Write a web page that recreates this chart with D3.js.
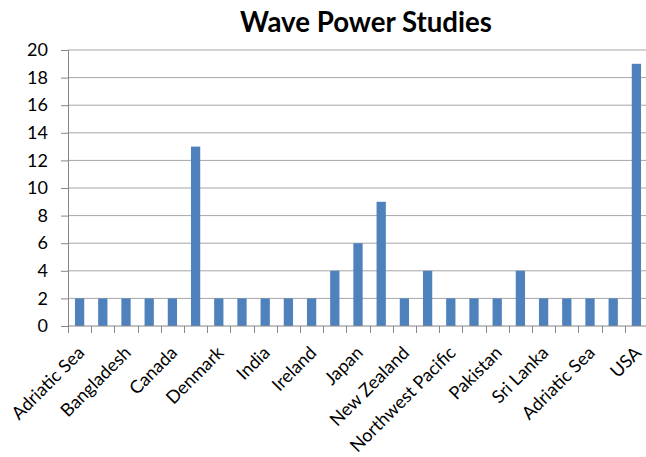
<!DOCTYPE html>
<html><head><meta charset="utf-8">
<script src="https://cdn.jsdelivr.net/npm/d3@7"></script>
<style>html,body{margin:0;padding:0;background:#fff;}svg{display:block;}</style>
</head><body>
<svg id="chart" width="646" height="457"></svg>
<script>
const categories = ["Adriatic Sea","c2","Bangladesh","c4","Canada","c6","Denmark","c8","India","c10","Ireland","c12","Japan","c14","New Zealand","c16","Northwest Pacific","c18","Pakistan","c20","Sri Lanka","c22","Adriatic Sea ","c24","USA"];
const values = [2,2,2,2,2,13,2,2,2,2,2,4,6,9,2,4,2,2,2,4,2,2,2,2,19];
const yTicks = [0,2,4,6,8,10,12,14,16,18,20];
const title = "Wave Power Studies";

const svg = d3.select("#chart");
const m = {left:68, right:648, top:50, bottom:326};
const font = "Lato, 'Open Sans', sans-serif";

const x = d3.scaleBand().domain(categories).range([m.left, m.right]).paddingInner(0.6).paddingOuter(0.3);
const xb = d3.scaleBand().domain(categories).range([m.left, m.right]);
const y = d3.scaleLinear().domain([0,20]).range([m.bottom, m.top]);

// gridlines
svg.append("g").selectAll("line").data(yTicks.filter(d=>d>0)).join("line")
  .attr("x1", m.left).attr("x2", m.right)
  .attr("y1", d=>y(d)).attr("y2", d=>y(d))
  .attr("stroke", "#a5a5a5").attr("stroke-width", 1);

// bars
svg.append("g").selectAll("rect").data(values).join("rect")
  .attr("x", (d,i)=>x(categories[i]))
  .attr("width", x.bandwidth())
  .attr("y", d=>y(d))
  .attr("height", d=>y(0)-y(d))
  .attr("fill", "#4f81bd");

// y axis
const yAxis = d3.axisLeft(y).tickValues(yTicks).tickSize(7).tickPadding(13);
const gy = svg.append("g").attr("transform", `translate(${m.left},0)`).call(yAxis);
gy.select(".domain").attr("stroke", "#868686");
gy.selectAll(".tick line").attr("stroke", "#868686");
gy.selectAll(".tick text").attr("font-family", font).attr("font-size", 18).attr("fill", "#000");

// x axis
const gx = svg.append("g").attr("transform", `translate(0,${m.bottom})`);
gx.append("line").attr("x1", m.left).attr("x2", m.right).attr("y1",0).attr("y2",0).attr("stroke","#868686");
const bounds = categories.map(c=>xb(c)).concat([m.right]);
gx.selectAll("line.t").data(bounds).join("line").attr("class","t")
  .attr("x1", d=>Math.round(d)+0.5).attr("x2", d=>Math.round(d)+0.5).attr("y1",0).attr("y2",7)
  .attr("stroke","#868686");
gx.selectAll("text").data(categories.filter((c,i)=>i%2===0)).join("text")
  .attr("transform", c=>`translate(${xb(c)+xb.bandwidth()/2+6},${28}) rotate(-45)`)
  .attr("text-anchor","end")
  .attr("font-family", font).attr("font-size", 18).attr("fill","#000")
  .text(c=>c.trim());

// title
const t = svg.append("text").attr("x", 366).attr("y", 32).attr("text-anchor","middle")
  .attr("font-family", font).attr("font-weight","bold").attr("font-size", 24).attr("fill","#000")
  .text(title);
const w = t.node().getComputedTextLength();
t.attr("font-size", 24*252/w);
</script>
</body></html>
